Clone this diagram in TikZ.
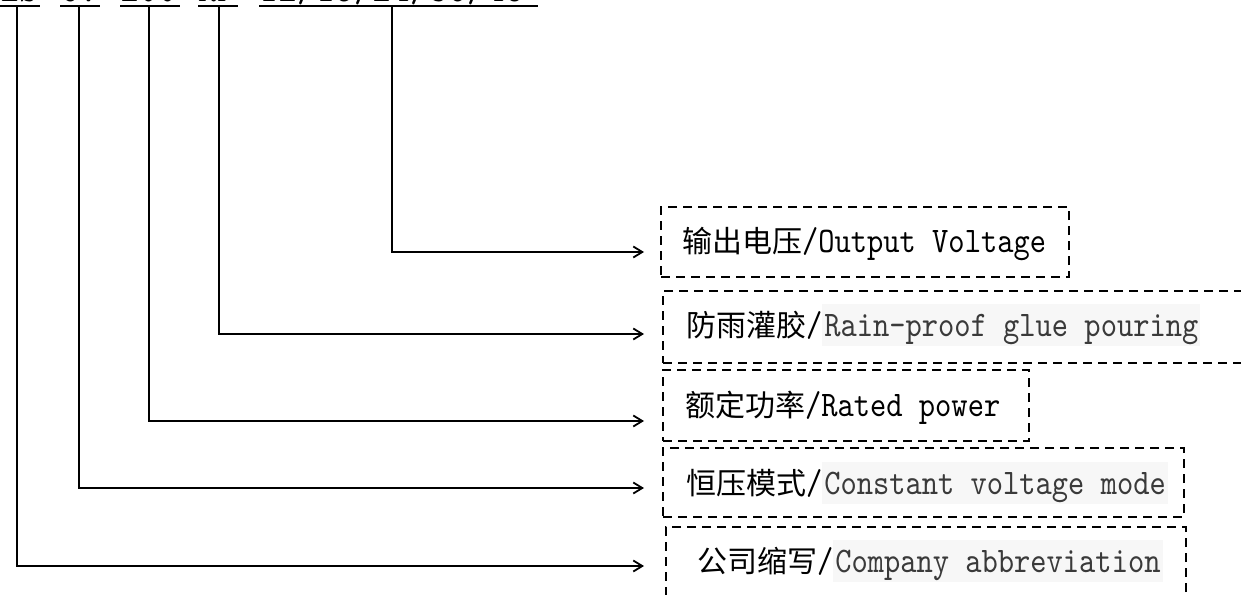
\documentclass[tikz,border=0pt]{standalone}
\usepackage{fontspec}
\usetikzlibrary{arrows.meta}
\newfontfamily\cjk{Noto Sans CJK SC}
\newfontfamily\lat[FakeStretch=0.86]{lmmono10-regular.otf}
\definecolor{hlgray}{HTML}{F7F7F7}
\definecolor{txtgray}{HTML}{3A3A3A}
\newcommand{\hlbox}[1]{{\setlength{\fboxsep}{0pt}\colorbox{hlgray}{\kern2pt\rule[-10pt]{0pt}{42pt}\color{txtgray}#1\kern2pt}}}
\newcommand{\cjkpart}[1]{{\cjk\fontsize{30}{36}\selectfont #1}}
\newcommand{\latpart}[1]{{\lat\fontsize{36}{42}\selectfont #1}}
\begin{document}
\begin{tikzpicture}[x=1pt,y=-1pt,
  dashbox/.style={draw=black, line width=2.2pt, dash pattern=on 9pt off 6pt, inner sep=0pt},
  lbl/.style={inner sep=0pt, anchor=base west},
  toptxt/.style={inner sep=0pt, anchor=base west, font=\lat\fontsize{42}{48}\selectfont},
  uline/.style={line width=2pt},
  conn/.style={line width=1.8pt, -{Straight Barb[length=9pt,width=11pt,line width=1.8pt]}}]
\useasboundingbox (0,0) rectangle (1241,594);
\fill[white] (0,0) rectangle (1241,594);

% top code text (mostly cut off by the page edge, as in the reference)
\node[toptxt] (s1) at (0,2) {ZS};
\node[toptxt] (s2) at (60,2) {CV};
\node[toptxt] (s3) at (120,2) {200};
\node[toptxt] (s4) at (198,2) {RP};
\node[toptxt] (s5) at (259,2) {12/15/24/36/48};
\draw[uline] (0,6) -- (40,6);
\draw[uline] (60,6) -- (100,6);
\draw[uline] (120,6) -- (180,6);
\draw[uline] (198,6) -- (238,6);
\draw[uline] (259,6) -- (538,6);

\coordinate (v1) at (17,6);
\coordinate (v2) at (79,6);
\coordinate (v3) at (149,6);
\coordinate (v4) at (219,6);
\coordinate (v5) at (392,6);

\coordinate (p1) at (644,252);
\coordinate (p2) at (644,334);
\coordinate (p3) at (644,421);
\coordinate (p4) at (644,488);
\coordinate (p5) at (644,566);

% dashed boxes
\node[dashbox, minimum width=408pt, minimum height=70pt] (b1) at (865,242) {};
\node[dashbox, minimum width=599pt, minimum height=72pt] (b2) at (962.5,327) {};
\node[dashbox, minimum width=366pt, minimum height=71pt] (b3) at (846,405.5) {};
\node[dashbox, minimum width=521pt, minimum height=69pt] (b4) at (923.5,482.5) {};
\node[dashbox, minimum width=520pt, minimum height=85pt] (b5) at (926,569.5) {};

% labels
\node[lbl] (t1) at (682,252) {\cjkpart{输出电压}\latpart{/Output Voltage}};
\node[lbl] (t2) at (686,336) {\cjkpart{防雨灌胶}\latpart{/}\hlbox{\latpart{Rain-proof glue pouring}}};
\node[lbl] (t3) at (685,416) {\cjkpart{额定功率}\latpart{/Rated power}};
\node[lbl] (t4) at (686,494) {\cjkpart{恒压模式}\latpart{/}\hlbox{\latpart{Constant voltage mode}}};
\node[lbl] (t5) at (697,572) {\cjkpart{公司缩写}\latpart{/}\hlbox{\latpart{Company abbreviation}}};

% connectors
\draw[conn] (v5) |- (p1);
\draw[conn] (v4) |- (p2);
\draw[conn] (v3) |- (p3);
\draw[conn] (v2) |- (p4);
\draw[conn] (v1) |- (p5);
\end{tikzpicture}
\end{document}
